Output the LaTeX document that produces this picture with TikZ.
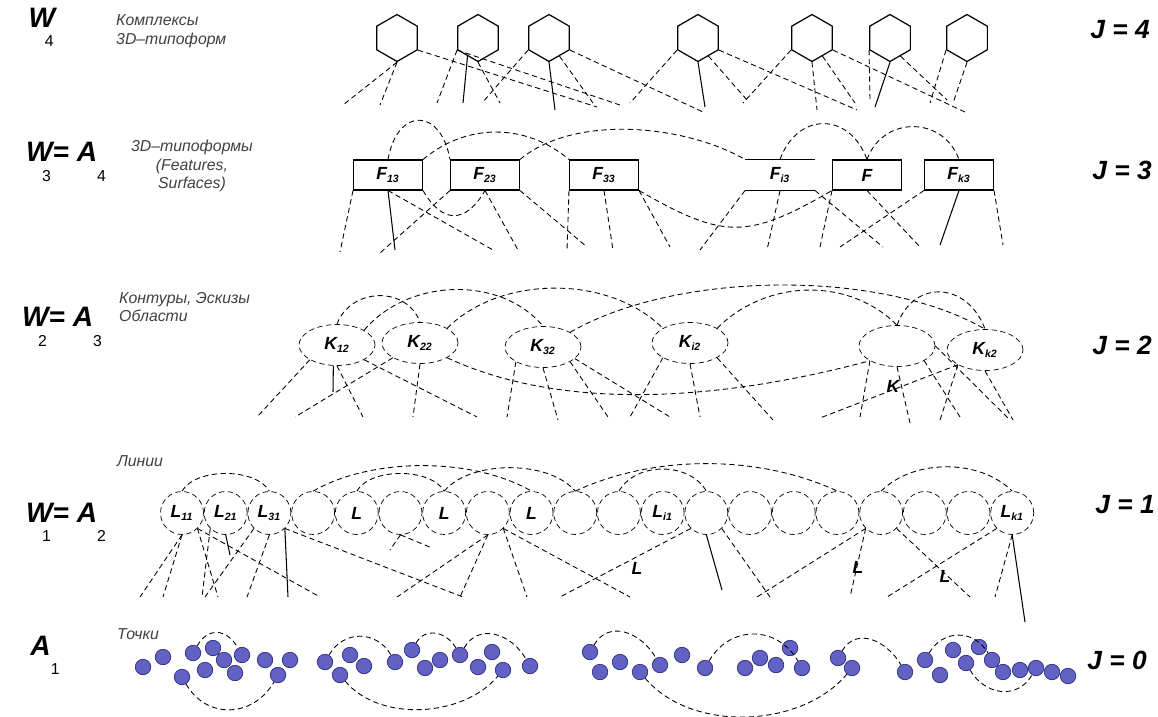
\documentclass[tikz,border=0pt]{standalone}
\usepackage{fontspec}
\setmainfont{Liberation Sans}
\usepackage{tikz}
\usetikzlibrary{positioning,shapes.geometric}

\definecolor{dotfill}{RGB}{98,98,196}
\definecolor{dotline}{RGB}{45,45,120}
\newcommand{\lowsub}[1]{\raisebox{-1.3ex}{\fontsize{9}{9}\selectfont\mdseries\upshape #1}}
\newcommand{\undersub}[1]{\raisebox{-1.3ex}{\makebox[0pt][r]{\fontsize{9}{9}\selectfont\mdseries\upshape #1\kern0.1em}}}
\newcommand{\idx}[1]{\textsubscript{\fontsize{6}{6}\selectfont #1}}

\tikzset{
  link/.style={dash pattern=on 3pt off 2pt, line width=0.5pt},
  solidlink/.style={line width=0.6pt},
  hexa/.style={regular polygon, regular polygon sides=6, shape border rotate=30, draw, minimum size=0.94cm, inner sep=0pt, line width=0.7pt},
  fbox/.style={rectangle, draw, minimum width=1.38cm, minimum height=0.6cm, inner sep=0pt, line width=0.6pt, font=\fontsize{10}{12}\selectfont\bfseries\itshape},
  kell/.style={ellipse, draw, dash pattern=on 3pt off 2pt, minimum width=1.52cm, minimum height=0.82cm, inner sep=0pt, font=\fontsize{10}{12}\selectfont\bfseries\itshape},
  lcirc/.style={circle, draw, dash pattern=on 3pt off 2pt, minimum size=0.86cm, inner sep=0pt, font=\fontsize{10}{12}\selectfont\bfseries\itshape},
  pt/.style={circle, fill=dotfill, draw=dotline, line width=0.4pt, minimum size=0.31cm, inner sep=0pt},
  level/.style={font=\fontsize{16}{19}\selectfont\bfseries\itshape},
  jlab/.style={font=\fontsize{15}{18}\selectfont\bfseries\itshape},
  note/.style={font=\fontsize{9}{10.5}\selectfont\itshape, text=black!75},
  tag/.style={font=\fontsize{10}{12}\selectfont\bfseries\itshape}
}

\begin{document}
\begin{tikzpicture}[x=0.02cm, y=-0.02cm]
\useasboundingbox (0,0) rectangle (1158,716);

% level names on the left
\node[level] (lvW4) at (42,27) {W\undersub{4}};
\node[level] (lvW3) at (66,162) {W\undersub{3}= A\lowsub{4}};
\node[level] (lvW2) at (62,327) {W\undersub{2}= A\lowsub{3}};
\node[level] (lvW1) at (66,522) {W\undersub{1}= A\lowsub{2}};
\node[level] (lvA1) at (45,655) {A\lowsub{1}};

% J numbers on the right
\node[jlab] (j4) at (1120,30) {J = 4};
\node[jlab] (j3) at (1122,170) {J = 3};
\node[jlab] (j2) at (1122,345) {J = 2};
\node[jlab] (j1) at (1125,505) {J = 1};
\node[jlab] (j0) at (1117,660) {J = 0};

% small captions
\node[note, align=left, anchor=west] (n4) at (110,31) {Комплексы\\3D–типоформ};
\node[note, align=center] (n3) at (192,166) {3D–типоформы\\(Features,\\Surfaces)};
\node[note, align=left, anchor=west] (n2) at (113,307) {Контуры, Эскизы\\Области};
\node[note] (n1) at (140,461) {Линии};
\node[note] (n0) at (138,634) {Точки};

% row J = 4
\node[hexa] (h1) at (397,38) {};
\node[hexa] (h2) at (478,38) {};
\node[hexa] (h3) at (549,38) {};
\node[hexa] (h4) at (698,38) {};
\node[hexa] (h5) at (812,38) {};
\node[hexa] (h6) at (890,38) {};
\node[hexa] (h7) at (967,38) {};

\coordinate (e41) at (343,105); \coordinate (e42) at (380,105); \coordinate (e43) at (597,107);
\coordinate (e44) at (437,103); \coordinate (e45) at (463,103); \coordinate (e46) at (500,103);
\coordinate (e47) at (620,105); \coordinate (e48) at (482,103); \coordinate (e49) at (555,110);
\coordinate (e4a) at (593,103); \coordinate (e4b) at (703,112); \coordinate (e4c) at (630,103);
\coordinate (e4d) at (705,107); \coordinate (e4e) at (747,100); \coordinate (e4f) at (857,110);
\coordinate (e4g) at (743,103); \coordinate (e4h) at (817,110); \coordinate (e4i) at (855,103);
\coordinate (e4j) at (967,113); \coordinate (e4k) at (870,100); \coordinate (e4l) at (875,107);
\coordinate (e4m) at (947,100); \coordinate (e4n) at (930,103); \coordinate (e4o) at (953,103);

\draw (h1.south) edge[link] (e41) edge[link] (e42);
\draw (h1.-30) edge[link] (e43);
\draw (h2.210) edge[link] (e44) edge[link] (e47);
\draw (h2.240) edge[solidlink] (e45);
\draw (h2.south) edge[link] (e46);
\draw (h3.210) edge[link] (e48);
\draw (h3.south) edge[solidlink] (e49);
\draw (h3.300) edge[link] (e4a);
\draw (h3.-30) edge[link] (e4b);
\draw (h4.210) edge[link] (e4c);
\draw (h4.south) edge[solidlink] (e4d);
\draw (h4.300) edge[link] (e4e);
\draw (h4.-30) edge[link] (e4f);
\draw (h5.210) edge[link] (e4g);
\draw (h5.south) edge[link] (e4h);
\draw (h5.300) edge[link] (e4i);
\draw (h5.-30) edge[link] (e4j);
\draw (h6.210) edge[link] (e4k);
\draw (h6.south) edge[solidlink] (e4l);
\draw (h6.300) edge[link] (e4m);
\draw (h7.210) edge[link] (e4n);
\draw (h7.south) edge[link] (e4o);

% row J = 3
\node[fbox] (f1) at (388,175) {F\idx{13}};
\node[fbox] (f2) at (485,175) {F\idx{23}};
\node[fbox] (f3) at (604,175) {F\idx{33}};
\node[fbox, draw=none] (f4) at (780,175) {F\idx{i3}};
\node[fbox] (f5) at (867,175) {F};
\node[fbox] (f6) at (959,175) {F\idx{k3}};
\draw[line width=0.6pt] (f4.north west) -- (f4.north east) (f4.south west) -- (f4.south east);

\draw (f1.north) edge[link, out=80, in=100, looseness=2.2] (f2.north west);
\draw (f1.north east) edge[link, out=40, in=140] (f3.north west);
\draw (f2.north east) edge[link, out=40, in=150, looseness=0.8] (f4.north west);
\draw (f4.north) edge[link, out=70, in=110, looseness=1.5] (f5.north);
\draw (f5.north) edge[link, out=70, in=110, looseness=1.3] (f6.north);
\draw (f1.south east) edge[link, out=-60, in=-120, looseness=1.6] (f2.south);
\draw (f3.south east) edge[link, out=-30, in=-150, looseness=1.3] (f5.south west);

\coordinate (e31) at (340,252); \coordinate (e32) at (395,250); \coordinate (e33) at (493,250);
\coordinate (e34) at (380,253); \coordinate (e35) at (518,250); \coordinate (e36) at (587,247);
\coordinate (e37) at (567,250); \coordinate (e38) at (613,250); \coordinate (e39) at (670,247);
\coordinate (e3a) at (700,250); \coordinate (e3b) at (767,250); \coordinate (e3c) at (883,247);
\coordinate (e3d) at (820,247); \coordinate (e3e) at (920,247); \coordinate (e3f) at (840,247);
\coordinate (e3g) at (940,245); \coordinate (e3h) at (1003,245);

\draw (f1.south west) edge[link] (e31);
\draw (f1.south) edge[solidlink] (e32) edge[link] (e33);
\draw (f2.south west) edge[link] (e34);
\draw (f2.south) edge[link] (e35);
\draw (f2.south east) edge[link] (e36);
\draw (f3.south west) edge[link] (e37);
\draw (f3.south) edge[link] (e38);
\draw (f3.south east) edge[link] (e39);
\draw (f4.south west) edge[link] (e3a);
\draw (f4.south) edge[link] (e3b);
\draw (f4.south east) edge[link] (e3c);
\draw (f5.south west) edge[link] (e3d);
\draw (f5.south) edge[link] (e3e);
\draw (f6.south west) edge[link] (e3f);
\draw (f6.south) edge[solidlink] (e3g);
\draw (f6.south east) edge[link] (e3h);

% row J = 2
\node[kell] (k1) at (337,345) {K\idx{12}};
\node[kell] (k2) at (420,343) {K\idx{22}};
\node[kell] (k3) at (543,347) {K\idx{32}};
\node[kell] (k4) at (690,343) {K\idx{i2}};
\node[kell] (k5) at (897,346) {};
\node[kell] (k6) at (985,350) {K\idx{k2}};
\node[tag] (k5tag) at (893,386) {K};

\draw (k1.north) edge[link, out=70, in=110, looseness=1.2] (k2.north);
\draw (k1.north east) edge[link, out=50, in=130, looseness=0.96] (k3.north);
\draw (k2.north east) edge[link, out=45, in=135, looseness=0.9] (k4.north west);
\draw (k3.north east) edge[link, out=30, in=150, looseness=0.75] (k6.north);
\draw (k4.north east) edge[link, out=45, in=135, looseness=0.98] (k5.north);
\draw (k5.north) edge[link, out=70, in=110, looseness=1.45] (k6.north);
\draw (k2.south east) edge[link, out=-25, in=-165, looseness=0.83] (k5.south west);

\coordinate (e21) at (257,417); \coordinate (e22) at (333,392); \coordinate (e23) at (363,417);
\coordinate (e24) at (477,417); \coordinate (e25) at (295,417); \coordinate (e26) at (413,417);
\coordinate (e27) at (507,417); \coordinate (e28) at (558,420); \coordinate (e29) at (608,417);
\coordinate (e2a) at (670,417); \coordinate (e2b) at (630,417); \coordinate (e2c) at (700,417);
\coordinate (e2d) at (773,420); \coordinate (e2e) at (860,417); \coordinate (e2f) at (910,423);
\coordinate (e2g) at (960,417); \coordinate (e2h) at (1010,420); \coordinate (e2i) at (940,420);
\coordinate (e2j) at (1013,420); \coordinate (e2k) at (820,418);

\draw (k1.south west) edge[link] (e21);
\draw (k1.-100) edge[solidlink] (e22);
\draw (k1.south) edge[link] (e23);
\draw (k1.south east) edge[link] (e24);
\draw (k2.south west) edge[link] (e25);
\draw (k2.south) edge[link] (e26);
\draw (k3.south west) edge[link] (e27);
\draw (k3.south) edge[link] (e28);
\draw (k3.south east) edge[link] (e29);
\draw (k3.-20) edge[link] (e2a);
\draw (k4.south west) edge[link] (e2b);
\draw (k4.south) edge[link] (e2c);
\draw (k4.south east) edge[link] (e2d);
\draw (k5.south west) edge[link] (e2e);
\draw (k5.south) edge[link] (e2f);
\draw (k5.south east) edge[link] (e2g);
\draw (k5.east) edge[link] (e2h);
\draw (k6.south west) edge[link] (e2i) edge[link] (e2k);
\draw (k6.south) edge[link] (e2j);

% row J = 1
\node[lcirc] (c1) at (182,513) {L\idx{11}};
\node[lcirc] (c2) [right=0cm of c1] {L\idx{21}};
\node[lcirc] (c3) [right=0cm of c2] {L\idx{31}};
\node[lcirc] (c4) [right=0cm of c3] {};
\node[lcirc] (c5) [right=0cm of c4] {L};
\node[lcirc] (c6) [right=0cm of c5] {};
\node[lcirc] (c7) [right=0cm of c6] {L};
\node[lcirc] (c8) [right=0cm of c7] {};
\node[lcirc] (c9) [right=0cm of c8] {L};
\node[lcirc] (c10) [right=0cm of c9] {};
\node[lcirc] (c11) [right=0cm of c10] {};
\node[lcirc] (c12) [right=0cm of c11] {L\idx{i1}};
\node[lcirc] (c13) [right=0cm of c12] {};
\node[lcirc] (c14) [right=0cm of c13] {};
\node[lcirc] (c15) [right=0cm of c14] {};
\node[lcirc] (c16) [right=0cm of c15] {};
\node[lcirc] (c17) [right=0cm of c16] {};
\node[lcirc] (c18) [right=0cm of c17] {};
\node[lcirc] (c19) [right=0cm of c18] {};
\node[lcirc] (c20) [right=0cm of c19] {L\idx{k1}};
\node[tag] (ltag1) at (637,568) {L};
\node[tag] (ltag2) at (858,567) {L};
\node[tag] (ltag3) at (945,576) {L};

\draw (c1.north) edge[link, out=60, in=120, looseness=0.8] (c3.north);
\draw (c4.north) edge[link, out=30, in=150, looseness=0.8] (c9.north);
\draw (c5.north) edge[link, out=60, in=120, looseness=0.8] (c7.north);
\draw (c7.north) edge[link, out=50, in=130, looseness=0.8] (c10.north);
\draw (c10.north) edge[link, out=25, in=155, looseness=0.85] (c16.north);
\draw (c11.north) edge[link, out=60, in=120, looseness=1] (c13.north);
\draw (c17.north) edge[link, out=45, in=135, looseness=0.9] (c20.north);

\coordinate (e11) at (140,597); \coordinate (e12) at (163,597); \coordinate (e13) at (218,597);
\coordinate (e14) at (320,597); \coordinate (e15) at (230,555); \coordinate (e16) at (202,597);
\coordinate (e17) at (247,597); \coordinate (e18) at (205,597); \coordinate (e19) at (288,597);
\coordinate (e1a) at (463,597); \coordinate (e1b) at (390,550); \coordinate (e1c) at (432,548);
\coordinate (e1d) at (397,597); \coordinate (e1e) at (460,597); \coordinate (e1f) at (527,597);
\coordinate (e1g) at (630,597); \coordinate (e1h) at (560,597); \coordinate (e1i) at (722,590);
\coordinate (e1j) at (770,597); \coordinate (e1k) at (757,597); \coordinate (e1l) at (850,597);
\coordinate (e1m) at (970,597); \coordinate (e1n) at (887,597); \coordinate (e1o) at (995,597);
\coordinate (e1p) at (1025,622);

\draw (c1.south) edge[link] (e11) edge[link] (e12);
\draw (c1.south east) edge[link] (e13) edge[link] (e14);
\draw (c2.south) edge[solidlink] (e15);
\draw (c2.south west) edge[link] (e16);
\draw (c3.south) edge[link] (e17);
\draw (c3.south west) edge[link] (e18);
\draw (c3.south east) edge[solidlink] (e19) edge[link] (e1a);
\draw (c6.south) edge[link] (e1b) edge[link] (e1c);
\draw (c8.south) edge[link] (e1d) edge[link] (e1e);
\draw (c8.south east) edge[link] (e1f) edge[link] (e1g);
\draw (c13.south west) edge[link] (e1h);
\draw (c13.south) edge[solidlink] (e1i);
\draw (c13.south east) edge[link] (e1j);
\draw (c17.south west) edge[link] (e1k) edge[link] (e1l);
\draw (c17.south east) edge[link] (e1m);
\draw (c20.south west) edge[link] (e1n);
\draw (c20.south) edge[link] (e1o) edge[solidlink] (e1p);

% row J = 0
\node[pt] (d1) at (143,667) {};
\node[pt] (d2) at (163,657) {};
\node[pt] (d3) at (182,677) {};
\node[pt] (d4) at (193,653) {};
\node[pt] (d5) at (205,670) {};
\node[pt] (d6) at (213,648) {};
\node[pt] (d7) at (224,660) {};
\node[pt] (d8) at (235,673) {};
\node[pt] (d9) at (242,655) {};
\node[pt] (d10) at (265,660) {};
\node[pt] (d11) at (278,675) {};
\node[pt] (d12) at (290,660) {};
\node[pt] (d13) at (325,662) {};
\node[pt] (d14) at (340,675) {};
\node[pt] (d15) at (350,655) {};
\node[pt] (d16) at (364,666) {};
\node[pt] (d17) at (395,662) {};
\node[pt] (d18) at (412,650) {};
\node[pt] (d19) at (425,668) {};
\node[pt] (d20) at (440,660) {};
\node[pt] (d21) at (460,655) {};
\node[pt] (d22) at (478,667) {};
\node[pt] (d23) at (492,652) {};
\node[pt] (d24) at (503,670) {};
\node[pt] (d25) at (530,666) {};
\node[pt] (d26) at (590,652) {};
\node[pt] (d27) at (600,672) {};
\node[pt] (d28) at (620,662) {};
\node[pt] (d29) at (640,672) {};
\node[pt] (d30) at (660,665) {};
\node[pt] (d31) at (682,655) {};
\node[pt] (d32) at (705,668) {};
\node[pt] (d33) at (745,668) {};
\node[pt] (d34) at (760,658) {};
\node[pt] (d35) at (776,665) {};
\node[pt] (d36) at (790,648) {};
\node[pt] (d37) at (802,668) {};
\node[pt] (d38) at (838,658) {};
\node[pt] (d39) at (852,668) {};
\node[pt] (d40) at (905,672) {};
\node[pt] (d41) at (925,660) {};
\node[pt] (d42) at (940,675) {};
\node[pt] (d43) at (953,650) {};
\node[pt] (d44) at (966,663) {};
\node[pt] (d45) at (979,647) {};
\node[pt] (d46) at (992,660) {};
\node[pt] (d47) at (1003,672) {};
\node[pt] (d48) at (1020,670) {};
\node[pt] (d49) at (1036,668) {};
\node[pt] (d50) at (1052,672) {};
\node[pt] (d51) at (1068,676) {};

\draw (d4) edge[link, out=60, in=120, looseness=1.4] (d9);
\draw (d3) edge[link, out=-60, in=-120, looseness=1.2] (d11);
\draw (d13) edge[link, out=60, in=120, looseness=1.2] (d17);
\draw (d14) edge[link, out=-50, in=-130, looseness=0.9] (d24);
\draw (d18) edge[link, out=60, in=120, looseness=1.2] (d21);
\draw (d21) edge[link, out=60, in=120, looseness=1.2] (d25);
\draw (d26) edge[link, out=60, in=120, looseness=1.2] (d30);
\draw (d32) edge[link, out=60, in=120, looseness=1.2] (d37);
\draw (d29) edge[link, out=-50, in=-130, looseness=0.9] (d39);
\draw (d38) edge[link, out=60, in=120, looseness=1.2] (d40);
\draw (d41) edge[link, out=60, in=120, looseness=1.2] (d46);
\draw (d44) edge[link, out=-60, in=-120, looseness=1.2] (d49);
\end{tikzpicture}
\end{document}
